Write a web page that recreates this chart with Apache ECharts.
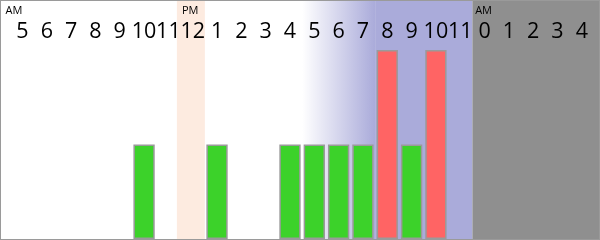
<!DOCTYPE html>
<html><head><meta charset="utf-8">
<script src="https://cdn.jsdelivr.net/npm/echarts@6/dist/echarts.min.js"></script>
<style>
html,body{margin:0;padding:0;background:#fff;}
#wrap{width:600px;height:240px;box-sizing:border-box;border:1px solid #9a9a9a;}
#c{width:598px;height:238px;}
</style></head><body>
<div id="wrap"><div id="c"></div></div>
<script>
// hour columns: 5 AM through 4 AM next day
const hourLabels = ['5','6','7','8','9','10','11','12','1','2','3','4','5','6','7','8','9','10','11','0','1','2','3','4'];
const periodLabels = ['AM','','','','','','','PM','','','','','','','','','','','','AM','','','',''];
const greenValues = ['-','-','-','-','-',1,'-','-',1,'-','-',1,1,1,1,'-',1,'-','-','-','-','-','-','-'];
const redValues   = ['-','-','-','-','-','-','-','-','-','-','-','-','-','-','-',2,'-',2,'-','-','-','-','-','-'];
// background bands in column units
const peachBand = [6.85, 8];
const fadeBand = [12, 15];
const blueBand = [15, 19];
const grayBandStart = 19;

const W = 598, H = 238;
const gLeft = 9.3, gRight = 5;
const colW = (W - gLeft - gRight) / hourLabels.length;
const bandMin = -gLeft / colW;
const bandMax = hourLabels.length + gRight / colW;
const yMax = 2.52;

const chart = echarts.init(document.getElementById('c'), null, {renderer:'canvas'});
chart.setOption({
  animation:false,
  grid:[
    {left:0,right:0,top:0,bottom:0},
    {left:gLeft,right:gRight,top:0,bottom:0}
  ],
  xAxis:[
    {type:'value',gridIndex:0,min:bandMin,max:bandMax,show:false},
    {type:'category',gridIndex:1,position:'top',data:hourLabels.map((_,i)=>String(i)),
     axisLine:{show:false},axisTick:{show:false},splitLine:{show:false},z:10,
     axisLabel:{inside:true,interval:0,margin:20,verticalAlign:'top',color:'#000',
       fontFamily:'Open Sans, sans-serif',fontSize:21.5,
       formatter:(v,i)=>hourLabels[i]}},
    {type:'category',gridIndex:1,position:'top',data:hourLabels.map((_,i)=>String(i)),
     axisLine:{show:false},axisTick:{show:false},splitLine:{show:false},z:10,
     axisLabel:{inside:true,interval:0,margin:4,verticalAlign:'top',color:'#000',
       fontFamily:'Open Sans, sans-serif',fontSize:11,
       formatter:(v,i)=>periodLabels[i] ? '{p'+i+'|'+periodLabels[i]+'}' : '',
       rich:{p0:{padding:[0,17,0,0],fontSize:11,fontFamily:'Open Sans'},
             p7:{padding:[0,5,0,0],fontSize:11,fontFamily:'Open Sans'},
             p19:{padding:[0,2,0,0],fontSize:11,fontFamily:'Open Sans'}}}}
  ],
  yAxis:[
    {type:'value',gridIndex:0,min:0,max:yMax,show:false},
    {type:'value',gridIndex:1,min:0,max:yMax,show:false}
  ],
  series:[
    {type:'line',xAxisIndex:0,yAxisIndex:0,data:[[0,0]],symbol:'none',lineStyle:{opacity:0},z:0,silent:true,
     markArea:{silent:true,data:[
       [{xAxis:peachBand[0],itemStyle:{color:'#fdebe0'}},{xAxis:peachBand[1]}],
       [{xAxis:fadeBand[0],itemStyle:{color:{type:'linear',x:0,y:0,x2:1,y2:0,colorStops:[{offset:0,color:'#ffffff'},{offset:1,color:'#aaabda'}]}}},{xAxis:fadeBand[1]}],
       [{xAxis:blueBand[0],itemStyle:{color:'#aaabda'}},{xAxis:blueBand[1]}],
       [{xAxis:grayBandStart,itemStyle:{color:'#8f8f8f'}},{xAxis:bandMax}]
     ]}},
    {type:'bar',xAxisIndex:1,yAxisIndex:1,data:greenValues,barWidth:colW-3,z:2,
     itemStyle:{color:'#3cd22a',borderColor:'#9a9a9a',borderWidth:1.5}},
    {type:'bar',xAxisIndex:1,yAxisIndex:1,data:redValues,barWidth:colW-3,barGap:'-100%',z:2,
     itemStyle:{color:'#ff6464',borderColor:'#9a9a9a',borderWidth:1.5}}
  ]
});
</script></body></html>
